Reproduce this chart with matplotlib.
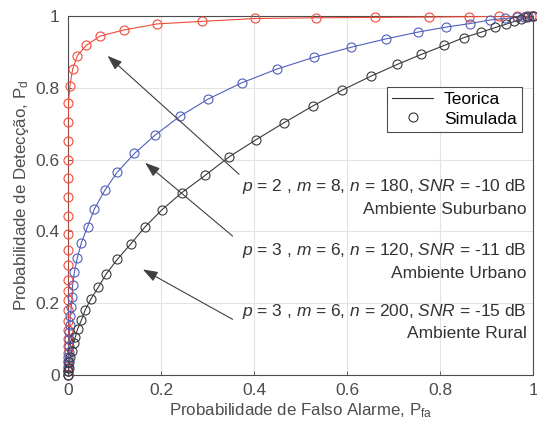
import matplotlib
matplotlib.use("Agg")
import matplotlib.pyplot as plt
from matplotlib.lines import Line2D

plt.rcParams['font.family'] = ['Liberation Sans', 'DejaVu Sans']
plt.rcParams['mathtext.fontset'] = 'custom'
plt.rcParams['mathtext.rm'] = 'Liberation Sans'
plt.rcParams['mathtext.it'] = 'Liberation Sans:italic'

# p = 2, m = 8, n = 180, SNR = -10 dB (suburbano)
sub_pfa = [0, 0, 0, 0, 0, 0, 0, 0, 0, 0, 0, 0, 0, 0, 0, 0, 0, 0, 0, 0, 0, 0,
           0.001, 0.004, 0.010, 0.020, 0.039, 0.069, 0.120, 0.192, 0.288, 0.403,
           0.533, 0.660, 0.776, 0.863, 0.926, 0.965, 0.985, 0.995, 1.0]
sub_pd = [0.0, 0.01, 0.025, 0.04, 0.06, 0.08, 0.10, 0.125, 0.15, 0.18, 0.21,
          0.235, 0.265, 0.306, 0.348, 0.393, 0.443, 0.496, 0.549, 0.599, 0.652,
          0.705, 0.758, 0.805, 0.852, 0.889, 0.918, 0.944, 0.961, 0.978, 0.985,
          0.993, 0.995, 0.996, 0.997, 0.998, 0.999, 1.0, 1.0, 1.0, 1.0]

# p = 3, m = 6, n = 120, SNR = -11 dB (urbano)
urb_pfa = [0, 0, 0, 0.001, 0.001, 0.002, 0.002, 0.003, 0.003, 0.004, 0.005,
           0.007, 0.009, 0.010, 0.014, 0.020, 0.029, 0.042, 0.057, 0.079, 0.106,
           0.143, 0.188, 0.241, 0.302, 0.374, 0.449, 0.529, 0.609, 0.683, 0.752,
           0.813, 0.865, 0.908, 0.940, 0.965, 0.980, 0.990, 1.0]
urb_pd = [0.0, 0.01, 0.02, 0.035, 0.05, 0.065, 0.08, 0.10, 0.12, 0.14, 0.165,
          0.19, 0.218, 0.251, 0.288, 0.326, 0.369, 0.413, 0.463, 0.514, 0.565,
          0.617, 0.669, 0.721, 0.769, 0.814, 0.852, 0.885, 0.913, 0.936, 0.955,
          0.969, 0.979, 0.989, 0.993, 0.996, 0.998, 0.999, 1.0]

# p = 3, m = 6, n = 200, SNR = -15 dB (rural)
rur_pfa = [0, 0.001, 0.002, 0.003, 0.005, 0.008, 0.012, 0.016, 0.021, 0.029,
           0.037, 0.049, 0.065, 0.082, 0.106, 0.135, 0.166, 0.202, 0.245, 0.295,
           0.347, 0.404, 0.465, 0.526, 0.589, 0.651, 0.708, 0.760, 0.809, 0.852,
           0.889, 0.919, 0.942, 0.960, 0.975, 0.988, 1.0]
rur_pd = [0.0, 0.01, 0.02, 0.035, 0.05, 0.068, 0.088, 0.107, 0.129, 0.153,
          0.181, 0.211, 0.244, 0.281, 0.322, 0.365, 0.413, 0.460, 0.508, 0.556,
          0.608, 0.655, 0.703, 0.749, 0.793, 0.832, 0.865, 0.893, 0.918, 0.940,
          0.955, 0.968, 0.977, 0.985, 0.991, 0.996, 1.0]

labels = [
    (r'$\mathit{p}$ = 2 , $\mathit{m}$ = 8, $\mathit{n}$ = 180, $\mathit{SNR}$ = -10 dB', 'Ambiente Suburbano'),
    (r'$\mathit{p}$ = 3 , $\mathit{m}$ = 6, $\mathit{n}$ = 120, $\mathit{SNR}$ = -11 dB', 'Ambiente Urbano'),
    (r'$\mathit{p}$ = 3 , $\mathit{m}$ = 6, $\mathit{n}$ = 200, $\mathit{SNR}$ = -15 dB', 'Ambiente Rural'),
]
arrow_heads = [(0.085, 0.889), (0.166, 0.591), (0.161, 0.294)]
arrow_tails = [(0.368, 0.559), (0.354, 0.387), (0.354, 0.155)]
text_y = [(0.524, 0.460), (0.348, 0.283), (0.176, 0.116)]

red = '#f04a3a'
blue = '#4f5fba'
black = '#3a3a3a'
gray = '#4d4d4d'

fig = plt.figure(figsize=(5.37, 4.32), dpi=100)
ax = fig.add_axes([0.1266, 0.132, 0.866, 0.831])

for x, y, c in [(sub_pfa, sub_pd, red), (urb_pfa, urb_pd, blue), (rur_pfa, rur_pd, black)]:
    ax.plot(x, y, color=c, lw=0.8, zorder=3)
    ax.plot(x, y, 'o', color=c, mfc='none', ms=6.5, mew=0.8, zorder=4, clip_on=False)

for head, tail in zip(arrow_heads, arrow_tails):
    ax.annotate('', xy=head, xytext=tail,
                arrowprops=dict(arrowstyle='-|>,head_length=0.9,head_width=0.32',
                                color='#404040', lw=0.8, shrinkA=0, shrinkB=0),
                zorder=5)

for (l1, l2), (y1, y2) in zip(labels, text_y):
    ax.text(0.986, y1, l1, ha='right', va='center', fontsize=12.5, color='#333333', zorder=6)
    ax.text(0.986, y2, l2, ha='right', va='center', fontsize=12.5, color='#333333', zorder=6)

ax.set_xlim(0, 1)
ax.set_ylim(0, 1)
ax.set_xticks([0, 0.2, 0.4, 0.6, 0.8, 1])
ax.set_yticks([0, 0.2, 0.4, 0.6, 0.8, 1])
ax.set_xticklabels(['0', '0.2', '0.4', '0.6', '0.8', '1'])
ax.set_yticklabels(['0', '0.2', '0.4', '0.6', '0.8', '1'])
ax.tick_params(direction='in', length=3, width=0.6, colors=gray, labelsize=12.5, pad=6)
ax.grid(True, color='#e3e3e3', lw=0.8)
ax.set_axisbelow(True)
for s in ax.spines.values():
    s.set_color(gray)
    s.set_linewidth(0.8)

ax.set_xlabel(r'Probabilidade de Falso Alarme, P$_{\mathregular{fa}}$', fontsize=12.2, color=gray, labelpad=2)
ax.set_ylabel(r'Probabilidade de Detecção, P$_{\mathregular{d}}$', fontsize=12.2, color=gray, labelpad=3)

handles = [Line2D([], [], color='#333333', lw=0.8),
           Line2D([], [], ls='none', marker='o', mfc='none', color='#333333', ms=6.5, mew=0.8)]
leg = ax.legend(handles, ['Teorica', 'Simulada'], loc='upper right', bbox_to_anchor=(0.976, 0.803),
                fontsize=12.5, fancybox=False, framealpha=1, edgecolor=gray,
                handlelength=2.4, handletextpad=0.6, borderpad=0.3, labelspacing=0.25,
                borderaxespad=0)
leg.get_frame().set_linewidth(0.8)
leg.set_zorder(7)

fig.savefig('out.png', dpi=100)
